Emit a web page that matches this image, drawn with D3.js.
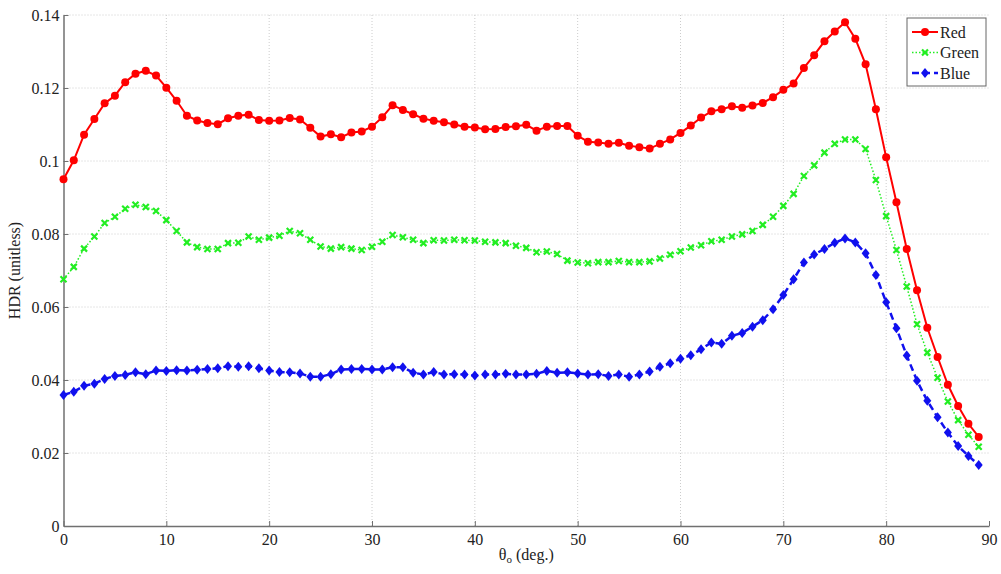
<!DOCTYPE html>
<html>
<head>
<meta charset="utf-8">
<script src="https://cdn.jsdelivr.net/npm/d3@7"></script>
<style>
  html, body { margin: 0; padding: 0; background: #fff; }
  svg { display: block; }
  text { font-family: "Liberation Serif", "DejaVu Serif", serif; fill: #222; }
</style>
</head>
<body>
<svg id="chart" width="1001" height="574"></svg>
<script>
// ---- data ----
const theta = d3.range(0, 90); // 0..89 deg
const red = [
  0.0950, 0.1002, 0.1072, 0.1115, 0.1158, 0.1179, 0.1216, 0.1239, 0.1247, 0.1234,
  0.1201, 0.1165, 0.1124, 0.1111, 0.1104, 0.1101, 0.1117, 0.1124, 0.1127, 0.1112,
  0.1110, 0.1111, 0.1118, 0.1114, 0.1091, 0.1067, 0.1073, 0.1065, 0.1078, 0.1081,
  0.1094, 0.1120, 0.1153, 0.1140, 0.1128, 0.1116, 0.1110, 0.1106, 0.1100, 0.1094,
  0.1092, 0.1087, 0.1088, 0.1093, 0.1095, 0.1099, 0.1083, 0.1094, 0.1096, 0.1096,
  0.1069, 0.1053, 0.1051, 0.1047, 0.1050, 0.1042, 0.1038, 0.1034, 0.1047, 0.1059,
  0.1077, 0.1097, 0.1119, 0.1136, 0.1142, 0.1150, 0.1146, 0.1152, 0.1159, 0.1175,
  0.1195, 0.1212, 0.1255, 0.1290, 0.1328, 0.1355, 0.1380, 0.1335, 0.1265, 0.1142,
  0.1010, 0.0887, 0.0759, 0.0646, 0.0543, 0.0463, 0.0387, 0.0329, 0.0280, 0.0244
];
const green = [
  0.0676, 0.0710, 0.0760, 0.0793, 0.0830, 0.0847, 0.0869, 0.0880, 0.0874, 0.0863,
  0.0838, 0.0808, 0.0777, 0.0764, 0.0759, 0.0759, 0.0775, 0.0776, 0.0793, 0.0784,
  0.0790, 0.0795, 0.0808, 0.0802, 0.0784, 0.0766, 0.0760, 0.0764, 0.0760, 0.0756,
  0.0765, 0.0779, 0.0797, 0.0791, 0.0784, 0.0775, 0.0783, 0.0782, 0.0784, 0.0783,
  0.0782, 0.0779, 0.0777, 0.0775, 0.0768, 0.0762, 0.0750, 0.0752, 0.0745, 0.0727,
  0.0722, 0.0720, 0.0723, 0.0723, 0.0726, 0.0723, 0.0723, 0.0725, 0.0733, 0.0743,
  0.0753, 0.0763, 0.0769, 0.0780, 0.0784, 0.0793, 0.0799, 0.0808, 0.0825, 0.0847,
  0.0877, 0.0910, 0.0959, 0.0988, 0.1023, 0.1047, 0.1059, 0.1059, 0.1033, 0.0948,
  0.0849, 0.0756, 0.0656, 0.0553, 0.0475, 0.0406, 0.0341, 0.0290, 0.0250, 0.0217
];
const blue = [
  0.0359, 0.0368, 0.0384, 0.0390, 0.0403, 0.0411, 0.0414, 0.0421, 0.0416, 0.0426,
  0.0425, 0.0427, 0.0426, 0.0428, 0.0430, 0.0432, 0.0438, 0.0436, 0.0438, 0.0432,
  0.0426, 0.0422, 0.0421, 0.0418, 0.0409, 0.0409, 0.0416, 0.0429, 0.0430, 0.0430,
  0.0429, 0.0429, 0.0435, 0.0435, 0.0420, 0.0415, 0.0422, 0.0415, 0.0416, 0.0415,
  0.0412, 0.0415, 0.0415, 0.0417, 0.0415, 0.0415, 0.0417, 0.0425, 0.0420, 0.0421,
  0.0418, 0.0415, 0.0416, 0.0411, 0.0415, 0.0409, 0.0415, 0.0423, 0.0436, 0.0446,
  0.0458, 0.0468, 0.0484, 0.0503, 0.0499, 0.0521, 0.0529, 0.0546, 0.0564, 0.0594,
  0.0633, 0.0676, 0.0722, 0.0744, 0.0759, 0.0776, 0.0788, 0.0777, 0.0747, 0.0688,
  0.0613, 0.0542, 0.0467, 0.0398, 0.0343, 0.0298, 0.0256, 0.0219, 0.0192, 0.0167
];
const xTicks = [0, 10, 20, 30, 40, 50, 60, 70, 80, 90];
const yTicks = [0, 0.02, 0.04, 0.06, 0.08, 0.1, 0.12, 0.14];
const yTickLabels = ["0", "0.02", "0.04", "0.06", "0.08", "0.1", "0.12", "0.14"];
const seriesNames = ["Red", "Green", "Blue"];

// ---- layout ----
const svg = d3.select("#chart");
const L = 63.5, R = 989, T = 15, B = 526;
const FS = 16;
const x = d3.scaleLinear().domain([0, 90]).range([L, R]);
const y = d3.scaleLinear().domain([0, 0.14]).range([B, T]);

// grid
const grid = svg.append("g");
grid.selectAll("line.vg").data(xTicks.filter(d => d > 0 && d < 90)).enter().append("line")
  .attr("x1", d => x(d)).attr("x2", d => x(d)).attr("y1", T).attr("y2", B)
  .attr("stroke", "#cccccc").attr("stroke-width", 1).attr("stroke-dasharray", "1,2");
grid.selectAll("line.hg").data(yTicks.filter(d => d > 0)).enter().append("line")
  .attr("x1", L).attr("x2", R).attr("y1", d => y(d)).attr("y2", d => y(d))
  .attr("stroke", "#cccccc").attr("stroke-width", 1).attr("stroke-dasharray", "1,2");

// axes
const xAxis = d3.axisBottom(x).tickValues(xTicks).tickSizeInner(-5).tickSizeOuter(0).tickPadding(8)
  .tickFormat(d3.format("d"));
const gx = svg.append("g").attr("transform", `translate(0,${B})`).call(xAxis);
const yAxis = d3.axisLeft(y).tickValues(yTicks).tickSizeInner(-5).tickSizeOuter(0).tickPadding(4)
  .tickFormat((d, i) => yTickLabels[i]);
const gy = svg.append("g").attr("transform", `translate(${L},0)`).call(yAxis);
[gx, gy].forEach(g => {
  g.select(".domain").attr("stroke", "#707070").attr("stroke-width", 1.5);
  g.selectAll(".tick line").attr("stroke", "#707070");
  g.selectAll(".tick text").attr("font-family", "Liberation Serif, serif").attr("font-size", FS).attr("fill", "#222");
});
gy.selectAll(".tick text").attr("dy", "0.32em");

// axis labels
svg.append("text").attr("transform", `translate(20,${(T + B) / 2}) rotate(-90)`)
  .attr("text-anchor", "middle").attr("font-size", FS).text("HDR (unitless)");
const xl = svg.append("text").attr("x", (L + R) / 2).attr("y", 560).attr("text-anchor", "middle").attr("font-size", FS);
xl.append("tspan").text("θ");
xl.append("tspan").attr("font-size", 11).attr("dy", 3).text("o");
xl.append("tspan").attr("dy", -3).text(" (deg.)");

// series
const series = [
  { name: seriesNames[0], values: red, color: "#ff0000", dash: null, width: 2, marker: "circle" },
  { name: seriesNames[1], values: green, color: "#22ee22", dash: "1.5,2", width: 1.5, marker: "x" },
  { name: seriesNames[2], values: blue, color: "#1010ee", dash: "7,4", width: 2.5, marker: "diamond" }
];
const line = d3.line().x((d, i) => x(theta[i])).y(d => y(d));

function drawMarker(g, type, color, cx, cy) {
  if (type === "circle") {
    g.append("circle").attr("cx", cx).attr("cy", cy).attr("r", 4).attr("fill", color);
  } else if (type === "diamond") {
    g.append("path").attr("d", `M${cx},${cy - 5}L${cx + 4},${cy}L${cx},${cy + 5}L${cx - 4},${cy}Z`).attr("fill", color);
  } else {
    g.append("path").attr("d", `M${cx - 3},${cy - 3}L${cx + 3},${cy + 3}M${cx - 3},${cy + 3}L${cx + 3},${cy - 3}`)
      .attr("stroke", color).attr("stroke-width", 2.2);
  }
}

series.forEach(s => {
  const g = svg.append("g");
  g.append("path").datum(s.values).attr("d", line).attr("fill", "none")
    .attr("stroke", s.color).attr("stroke-width", s.width)
    .attr("stroke-dasharray", s.dash);
  s.values.forEach((v, i) => drawMarker(g, s.marker, s.color, x(theta[i]), y(v)));
});

// legend
const lg = svg.append("g");
lg.append("rect").attr("x", 907).attr("y", 18).attr("width", 79).attr("height", 68)
  .attr("fill", "#fff").attr("stroke", "#666").attr("stroke-width", 1);
series.forEach((s, i) => {
  const ly = 32 + i * 20.5;
  lg.append("line").attr("x1", 912).attr("x2", 938).attr("y1", ly).attr("y2", ly)
    .attr("stroke", s.color).attr("stroke-width", s.width).attr("stroke-dasharray", s.dash);
  drawMarker(lg, s.marker, s.color, 925, ly);
  lg.append("text").attr("x", 940).attr("y", ly).attr("dy", "0.35em").attr("font-size", FS).text(s.name);
});
</script>
</body>
</html>
